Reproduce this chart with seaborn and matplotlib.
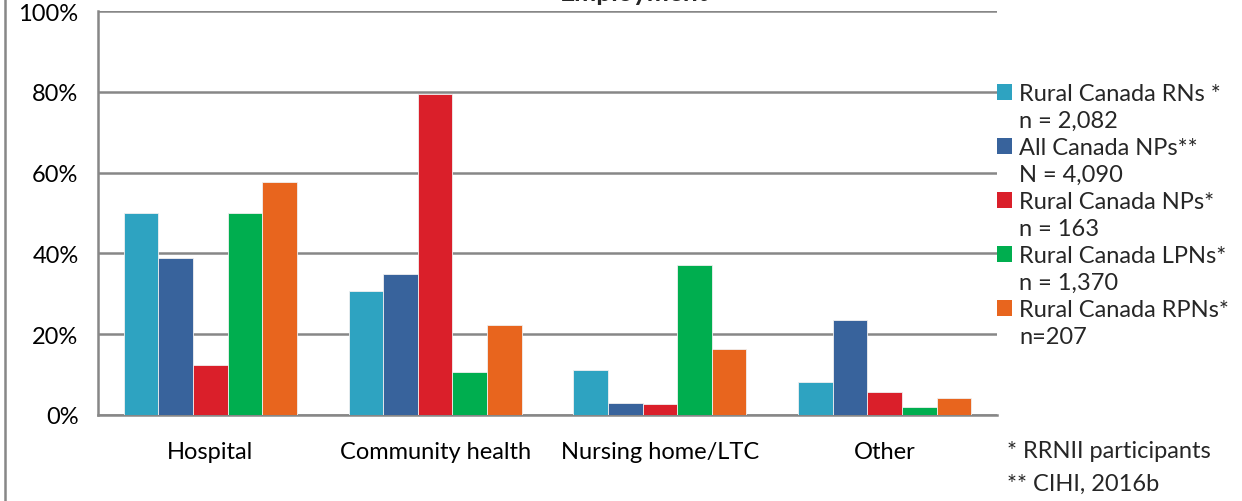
import matplotlib
matplotlib.use("Agg")
import matplotlib.pyplot as plt
from matplotlib.patches import Patch
from matplotlib.lines import Line2D
import seaborn as sns
import pandas as pd
import numpy as np

categories = ["Hospital", "Community health", "Nursing home/LTC", "Other"]
series_names = ["Rural Canada RNs *", "All Canada NPs**", "Rural Canada NPs*",
                "Rural Canada LPNs*", "Rural Canada RPNs*"]
series_n = ["n = 2,082", "N = 4,090", "n = 163", "n = 1,370", "n=207"]
rural_rns = [50.0, 30.7, 11.1, 8.2]
all_nps = [38.9, 34.9, 3.0, 23.5]
rural_nps = [12.4, 79.5, 2.7, 5.7]
rural_lpns = [50.0, 10.6, 37.1, 2.0]
rural_rpns = [57.7, 22.3, 16.3, 4.2]
colors = ["#2EA3C1", "#38639C", "#DA1F2A", "#00AE4F", "#E8651E"]
yticks = [0, 20, 40, 60, 80, 100]
ytick_labels = ["0%", "20%", "40%", "60%", "80%", "100%"]
footnotes = ["* RRNII participants", "** CIHI, 2016b"]

values = [rural_rns, all_nps, rural_nps, rural_lpns, rural_rpns]
rows = []
for s, vals in zip(series_names, values):
    for c, v in zip(categories, vals):
        rows.append({"category": c, "series": s, "value": v})
df = pd.DataFrame(rows)

sns.set_theme(style="white")
plt.rcParams["font.family"] = ["Lato", "DejaVu Sans"]

W, H = 1242, 502
fs = 17
fig = plt.figure(figsize=(W / 100, H / 100), dpi=100)
ax = fig.add_axes([98 / W, 1 - 416 / H, (997 - 98) / W, (416 - 12) / H])

grey = "#878787"
sns.barplot(data=df, x="category", y="value", hue="series", order=categories,
            hue_order=series_names, palette=colors, width=0.77, ax=ax,
            legend=False, saturation=1, edgecolor="#f0f0f0", linewidth=0.6,
            zorder=3)

ax.set_ylim(0, 100)
ax.set_xlim(-0.5, len(categories) - 0.5)
ax.set_yticks(yticks)
ax.set_yticklabels(ytick_labels, fontsize=fs, color="black")
ax.yaxis.grid(True, color=grey, linewidth=1.8, zorder=0)
ax.set_axisbelow(True)
ax.set_xlabel("")
ax.set_ylabel("")
ax.set_xticks(range(len(categories)))
ax.set_xticklabels(categories, fontsize=fs, color="black")
ax.set_xticks(np.arange(-0.5, len(categories)), minor=True)
ax.tick_params(axis="x", which="major", length=0, pad=19)
ax.tick_params(axis="x", which="minor", length=9, width=1.8, color=grey, direction="out")
ax.tick_params(axis="y", which="major", length=8, width=1.8, color=grey, direction="out", pad=6)
for side in ["top", "right"]:
    ax.spines[side].set_visible(False)
for side in ["left", "bottom"]:
    ax.spines[side].set_color(grey)
    ax.spines[side].set_linewidth(1.8)

# legend: each series takes two rows (name, then n)
handles, labels = [], []
for name, n, col in zip(series_names, series_n, colors):
    handles.append(Patch(facecolor=col, edgecolor="none"))
    labels.append(name)
    handles.append(Patch(facecolor="none", edgecolor="none"))
    labels.append(n)
fig.legend(handles, labels, loc="upper left",
           bbox_to_anchor=(997 / W, 1 - 84 / H), frameon=False, fontsize=fs,
           handlelength=0.64, handleheight=0.64, handletextpad=0.3,
           labelspacing=0.255, borderpad=0, borderaxespad=0)

fig.text(1007 / W, 1 - 452 / H, footnotes[0], fontsize=fs, va="center", ha="left")
fig.text(1007 / W, 1 - 484 / H, footnotes[1], fontsize=fs, va="center", ha="left")

fig.text(634 / W, 1 - 1 / H, "Employment", fontsize=19, fontweight="bold",
         ha="center", va="baseline")

fig.add_artist(Line2D([5 / W, 5 / W], [0, 1], transform=fig.transFigure,
                      color=grey, linewidth=1.8))

fig.savefig("out.png", dpi=100)
